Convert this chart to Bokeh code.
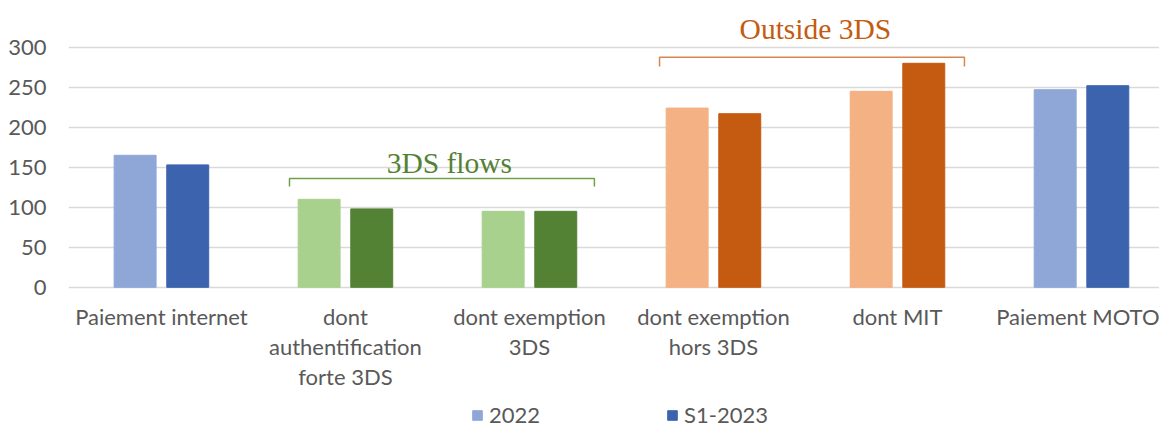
from bokeh.plotting import figure
from bokeh.models import ColumnDataSource, Range1d, Legend, LegendItem, Label, FixedTicker
from bokeh.embed import file_html
from bokeh.resources import INLINE

categories = ["Paiement internet", "dont\nauthentification\nforte 3DS", "dont exemption\n3DS",
              "dont exemption\nhors 3DS", "dont MIT", "Paiement MOTO"]
values_2022 = [165, 110, 95, 224, 245, 247]
values_s1_2023 = [153, 98, 95, 217, 280, 252]
colors_2022 = ["#8FA7D7", "#A9D18E", "#A9D18E", "#F4B183", "#F4B183", "#8FA7D7"]
colors_s1 = ["#3C64AE", "#548235", "#548235", "#C55A11", "#C55A11", "#3C64AE"]
y_ticks = [0, 50, 100, 150, 200, 250, 300]

xs = list(range(len(categories)))
off = 0.143
w = 0.228

src1 = ColumnDataSource(dict(x=[i - off for i in xs], top=values_2022, color=colors_2022))
src2 = ColumnDataSource(dict(x=[i + off for i in xs], top=values_s1_2023, color=colors_s1))

p = figure(frame_width=1091, frame_height=418, output_backend="svg", toolbar_location=None,
           x_range=Range1d(-0.505, 5.424), y_range=Range1d(-176.5, 346),
           min_border_left=68, min_border_right=0, min_border_top=10, min_border_bottom=0)
p.outline_line_color = None
p.background_fill_color = "white"
p.border_fill_color = "white"

r1 = p.vbar(x="x", top="top", width=w, color="color", source=src1)
r2 = p.vbar(x="x", top="top", width=w, color="color", source=src2)

# axes
p.yaxis.ticker = FixedTicker(ticks=y_ticks)
p.yaxis.axis_line_color = None
p.yaxis.major_tick_line_color = None
p.yaxis.minor_tick_line_color = None
p.yaxis.major_label_text_font = "Lato"
p.yaxis.major_label_text_font_size = "22px"
p.yaxis.major_label_text_color = "#595959"
p.yaxis.major_label_standoff = 16

p.xaxis.fixed_location = 0
p.xaxis.ticker = FixedTicker(ticks=xs)
p.xaxis.major_label_overrides = {i: c for i, c in enumerate(categories)}
p.xaxis.axis_line_color = None
p.xaxis.major_tick_line_color = None
p.xaxis.minor_tick_line_color = None
p.xaxis.major_label_text_font = "Lato"
p.xaxis.major_label_text_font_size = "22px"
p.xaxis.major_label_text_color = "#595959"
p.xaxis.major_label_text_line_height = 1.1
p.xaxis.major_label_standoff = 10

p.xgrid.grid_line_color = None
p.ygrid.grid_line_color = "#D9D9D9"
p.ygrid.grid_line_width = 1.3
p.ygrid.ticker = FixedTicker(ticks=y_ticks)

# group brackets
p.line(x=[0.696, 0.696, 2.353, 2.353], y=[126, 136, 136, 126], line_color="#70A048", line_width=1.5)
p.line(x=[2.707, 2.707, 4.364, 4.364], y=[276, 287.5, 287.5, 276], line_color="#D9864E", line_width=1.5)
p.add_layout(Label(x=1.565, y=155, text="3DS flows", text_align="center", text_baseline="alphabetic",
                   text_font="Liberation Serif", text_font_size="29.5px", text_color="#548235"))
p.add_layout(Label(x=3.554, y=322.5, text="Outside 3DS", text_align="center", text_baseline="alphabetic",
                   text_font="Liberation Serif", text_font_size="29.5px", text_color="#C55A11"))

legend = Legend(items=[LegendItem(label="2022", renderers=[r1], index=0),
                       LegendItem(label="S1-2023", renderers=[r2], index=0)],
                orientation="horizontal", location=(403, 0), spacing=126,
                glyph_width=12, glyph_height=12, label_standoff=6, label_height=20,
                label_text_font="Lato", label_text_font_size="22px", label_text_color="#595959",
                border_line_color=None, background_fill_alpha=0, padding=0, margin=0)
p.add_layout(legend)

open("out.html", "w").write(file_html(p, INLINE))
